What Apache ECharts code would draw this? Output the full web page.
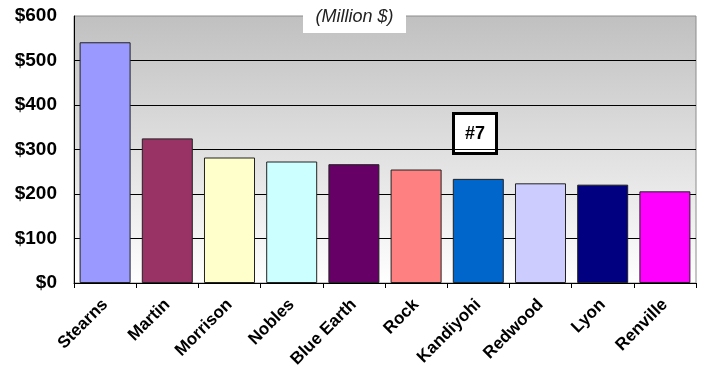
<!DOCTYPE html>
<html>
<head>
<meta charset="utf-8">
<script src="https://cdn.jsdelivr.net/npm/echarts@6/dist/echarts.min.js"></script>
<style>
  html, body { margin: 0; padding: 0; background: #fff; }
  #chart { width: 704px; height: 373px; }
</style>
</head>
<body>
<div id="chart"></div>
<script>
// counties and their values (million $)
const counties = ["Stearns", "Martin", "Morrison", "Nobles", "Blue Earth", "Rock", "Kandiyohi", "Redwood", "Lyon", "Renville"];
const values = [541, 325, 282, 273, 267, 255, 234, 224, 221, 206];
const barColors = ["#9999ff", "#993366", "#ffffcc", "#ccffff", "#660066", "#ff8080", "#0066cc", "#ccccff", "#000080", "#ff00ff"];
const yTicks = [0, 100, 200, 300, 400, 500, 600];

const chart = echarts.init(document.getElementById("chart"));

const option = {
  animation: false,
  grid: {
    left: 74,
    right: 8,
    top: 16,
    bottom: 90,
    show: true,
    borderColor: "#8c8c8c",
    borderWidth: 1,
    backgroundColor: new echarts.graphic.LinearGradient(0, 0, 0, 1, [
      { offset: 0, color: "#c0c0c0" },
      { offset: 1, color: "#ffffff" }
    ])
  },
  xAxis: {
    type: "category",
    data: counties,
    axisLine: { lineStyle: { color: "#000", width: 1 } },
    axisTick: { show: true, length: 5, lineStyle: { color: "#000" } },
    axisLabel: {
      rotate: 45,
      interval: 0,
      margin: 19,
      color: "#000",
      fontFamily: "Liberation Sans, Arial, sans-serif",
      fontWeight: "bold",
      fontSize: 17
    }
  },
  yAxis: {
    type: "value",
    min: yTicks[0],
    max: yTicks[yTicks.length - 1],
    interval: 100,
    axisLine: { show: true, lineStyle: { color: "#000" } },
    axisTick: { show: false },
    splitLine: { showMaxLine: false, lineStyle: { color: "#000", width: 1 } },
    axisLabel: {
      margin: 17,
      color: "#000",
      fontFamily: "Liberation Sans, Arial, sans-serif",
      fontWeight: "bold",
      fontSize: 19,
      formatter: v => "$" + v
    }
  },
  series: [{
    type: "bar",
    barCategoryGap: "18%",
    data: values.map((v, i) => ({
      value: v,
      itemStyle: { color: barColors[i] }
    })),
    itemStyle: { borderColor: "#222", borderWidth: 1 }
  }],
  graphic: [
    {
      type: "group",
      left: 303,
      top: 0,
      children: [
        { type: "rect", shape: { x: 0, y: 0, width: 103, height: 33 }, style: { fill: "#fff" } },
        {
          type: "text",
          x: 51.5,
          y: 17,
          style: {
            text: "(Million $)",
            fill: "#222",
            font: "italic 18px 'Liberation Sans', Arial, sans-serif",
            align: "center",
            verticalAlign: "middle"
          }
        }
      ]
    },
    {
      type: "group",
      left: 452,
      top: 112,
      children: [
        { type: "rect", shape: { x: 1.5, y: 1.5, width: 43, height: 40 }, style: { fill: "#fff", stroke: "#000", lineWidth: 3 } },
        {
          type: "text",
          x: 23,
          y: 22,
          style: {
            text: "#7",
            fill: "#000",
            font: "bold 18px 'Liberation Sans', Arial, sans-serif",
            align: "center",
            verticalAlign: "middle"
          }
        }
      ]
    }
  ]
};

chart.setOption(option);
</script>
</body>
</html>
